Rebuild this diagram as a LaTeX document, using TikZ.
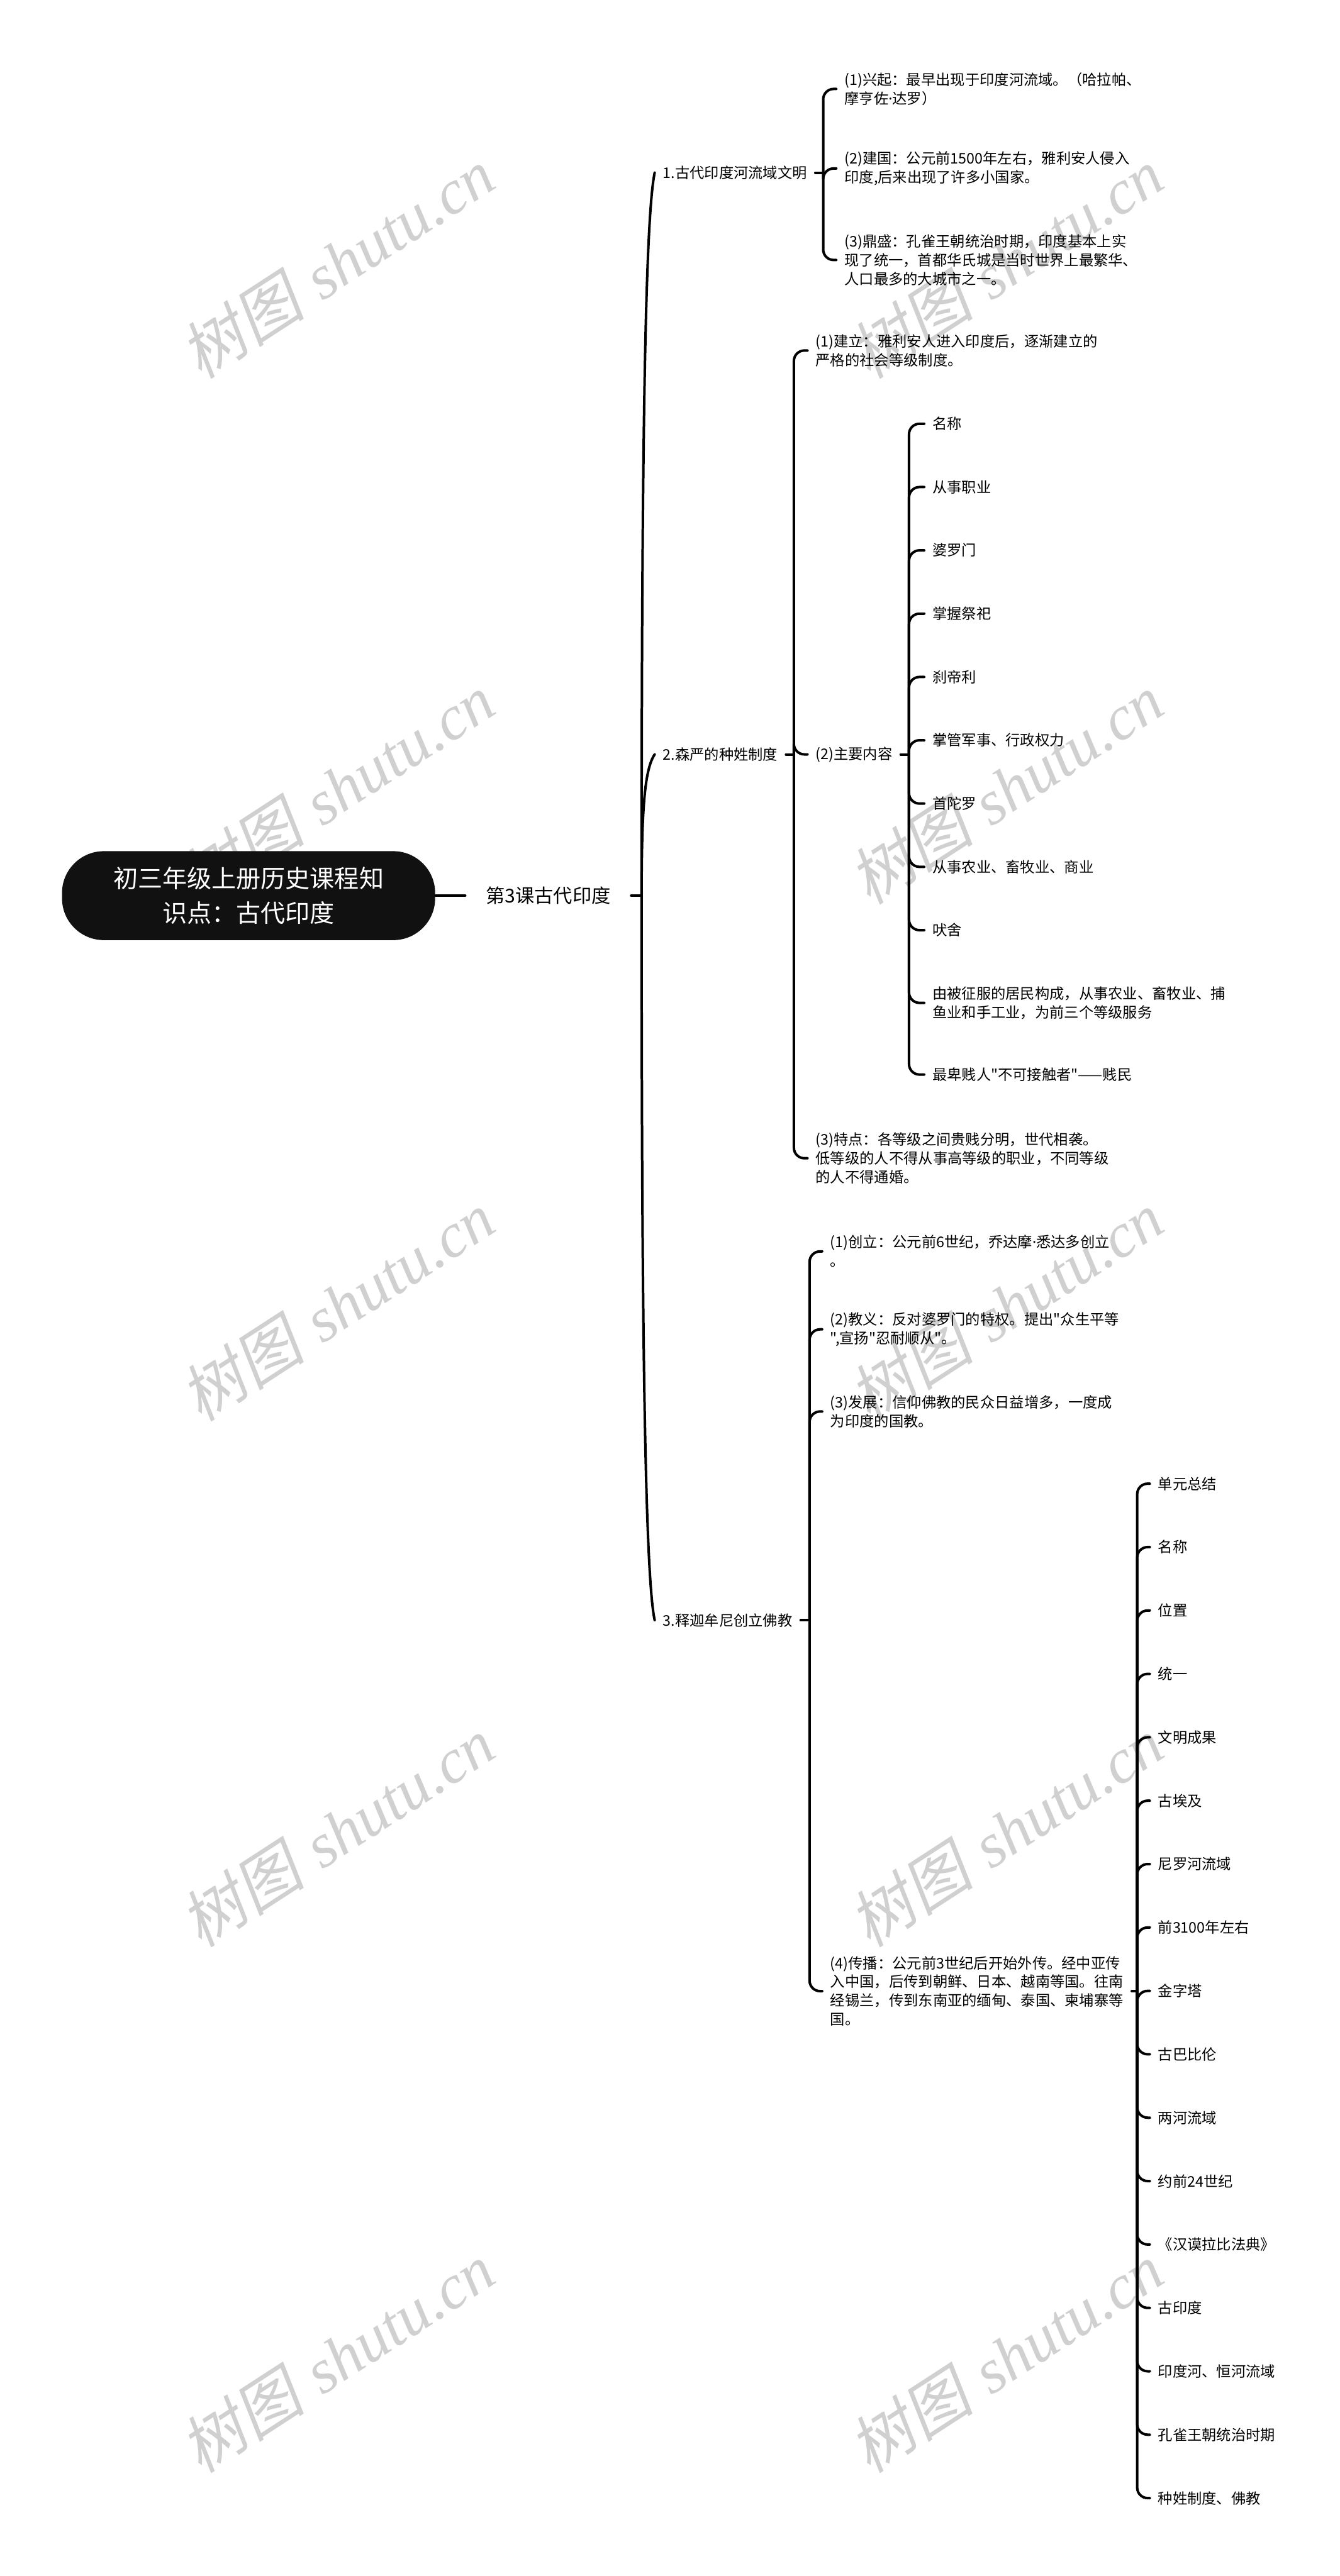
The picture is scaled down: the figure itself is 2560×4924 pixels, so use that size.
\documentclass[tikz,border=0pt]{standalone}
\usepackage{fontspec}
\newfontfamily\cjk{Noto Sans CJK SC}
\newfontfamily\latn{Noto Sans}
\newfontfamily\wmcjk[FakeSlant=0.2]{Noto Sans CJK SC}
\newfontfamily\wmlat{Liberation Serif}
\newcommand{\mdot}{{\latn ·}}
\definecolor{wmgray}{RGB}{208,208,208}
\definecolor{rootfill}{RGB}{17,17,17}
\begin{document}
\begin{tikzpicture}[x=0.25pt,y=-0.25pt,
  conn/.style={line width=1.2pt, black, line cap=round},
  hook/.style={conn, rounded corners=5pt},
  lv/.style={font=\cjk\fontsize{7}{9}\selectfont, align=left, anchor=west, inner xsep=3.75pt, inner ysep=1pt, text=black},
  wmark/.style={font=\fontsize{30}{30}\selectfont, text=wmgray, rotate=33, inner sep=0pt},
  rootbox/.style={fill=rootfill, rounded corners=20pt, minimum width=178.25pt, minimum height=42.5pt, text=white, align=center, font=\cjk\fontsize{11.75}{16.5}\selectfont, inner sep=0pt},
  lzero/.style={font=\cjk\fontsize{9.1}{12}\selectfont, anchor=west, inner xsep=9.6pt, inner ysep=1pt}
]
\useasboundingbox (0,0) rectangle (2560,4924);
\fill[white] (0,0) rectangle (2560,4924);

% watermarks
\foreach \i/\x/\y in {1/644/503, 2/1922/503, 3/644/1508, 4/1922/1508, 5/644/2497, 6/1922/2497, 7/644/3502, 8/1922/3502, 9/644/4507, 10/1922/4507}
  \node[wmark] (wm\i) at (\x,\y) {{\wmcjk 树图} {\wmlat\itshape shutu.cn}};

% root and level 0
\node[rootbox] (root) at (475,1712) {初三年级上册历史课程知\\识点：古代印度};
\node[lzero] (l0) at (889,1712) {第3课古代印度};
\draw[conn] (root.east) -- (l0.west);
\coordinate (j0) at (1226,1712);
\draw[conn] (l0.east) -- (j0);

% level 1
\node[lv] (a) at (1251,330) {1.古代印度河流域文明};
\node[lv] (b) at (1251,1442) {2.森严的种姓制度};
\node[lv] (c) at (1251,3097) {3.释迦牟尼创立佛教};
\draw[conn] (j0) .. controls (1226,900) and (1232,420) .. (a.west);
\draw[conn] (j0) .. controls (1226,1545) and (1232,1470) .. (b.west);
\draw[conn] (j0) .. controls (1226,2500) and (1232,3010) .. (c.west);

% children of 1
\node[lv] (a1) at (1598,170) {(1)兴起：最早出现于印度河流域。（哈拉帕、\\摩亨佐\mdot 达罗）};
\node[lv] (a2) at (1598,322) {(2)建国：公元前1500年左右，雅利安人侵入\\印度,后来出现了许多小国家。};
\node[lv] (a3) at (1598,497) {(3)鼎盛：孔雀王朝统治时期，印度基本上实\\现了统一，首都华氏城是当时世界上最繁华、\\人口最多的大城市之一。};
\coordinate (ja) at (1573,330);
\draw[conn] (a.east) -- (ja);
\foreach \n in {a1,a2,a3} \draw[hook] (ja) |- (\n.west);

% children of 2
\node[lv] (b1) at (1543,670) {(1)建立：雅利安人进入印度后，逐渐建立的\\严格的社会等级制度。};
\node[lv] (b2) at (1543,1442) {(2)主要内容};
\node[lv] (b3) at (1543,2214) {(3)特点：各等级之间贵贱分明，世代相袭。\\低等级的人不得从事高等级的职业，不同等级\\的人不得通婚。};
\coordinate (jb) at (1517,1442);
\draw[conn] (b.east) -- (jb);
\foreach \n in {b1,b2,b3} \draw[hook] (jb) |- (\n.west);

% children of (2)主要内容
\node[lv] (d1) at (1766,810) {名称};
\node[lv] (d2) at (1766,931) {从事职业};
\node[lv] (d3) at (1766,1052) {婆罗门};
\node[lv] (d4) at (1766,1173) {掌握祭祀};
\node[lv] (d5) at (1766,1294) {刹帝利};
\node[lv] (d6) at (1766,1415) {掌管军事、行政权力};
\node[lv] (d7) at (1766,1536) {首陀罗};
\node[lv] (d8) at (1766,1657) {从事农业、畜牧业、商业};
\node[lv] (d9) at (1766,1778) {吠舍};
\node[lv] (d10) at (1766,1917) {由被征服的居民构成，从事农业、畜牧业、捕\\鱼业和手工业，为前三个等级服务};
\node[lv] (d11) at (1766,2054) {最卑贱人"不可接触者"——贱民};
\coordinate (jd) at (1737,1442);
\draw[conn] (b2.east) -- (jd);
\foreach \n in {d1,d2,d3,d4,d5,d6,d7,d8,d9,d10,d11} \draw[hook] (jd) |- (\n.west);

% children of 3
\node[lv] (c1) at (1571,2392) {(1)创立：公元前6世纪，乔达摩\mdot 悉达多创立\\。};
\node[lv] (c2) at (1571,2541) {(2)教义：反对婆罗门的特权。提出"众生平等\\",宣扬"忍耐顺从"。};
\node[lv] (c3) at (1571,2698) {(3)发展：信仰佛教的民众日益增多，一度成\\为印度的国教。};
\node[lv] (c4) at (1571,3806) {(4)传播：公元前3世纪后开始外传。经中亚传\\入中国，后传到朝鲜、日本、越南等国。往南\\经锡兰，传到东南亚的缅甸、泰国、柬埔寨等\\国。};
\coordinate (jc) at (1547,3097);
\draw[conn] (c.east) -- (jc);
\foreach \n in {c1,c2,c3,c4} \draw[hook] (jc) |- (\n.west);

% children of (4)
\foreach \i/\t in {0/单元总结, 1/名称, 2/位置, 3/统一, 4/文明成果, 5/古埃及, 6/尼罗河流域, 7/前3100年左右, 8/金字塔, 9/古巴比伦, 10/两河流域, 11/约前24世纪, 12/《汉谟拉比法典》, 13/古印度, 14/印度河、恒河流域, 15/孔雀王朝统治时期, 16/种姓制度、佛教}
  \node[lv] (e\i) at (2197,2836+121.19*\i) {\t};
\coordinate (je) at (2173,3806);
\draw[conn] (c4.east) -- (je);
\foreach \i in {0,...,16} \draw[hook] (je) |- (e\i.west);
\end{tikzpicture}
\end{document}
